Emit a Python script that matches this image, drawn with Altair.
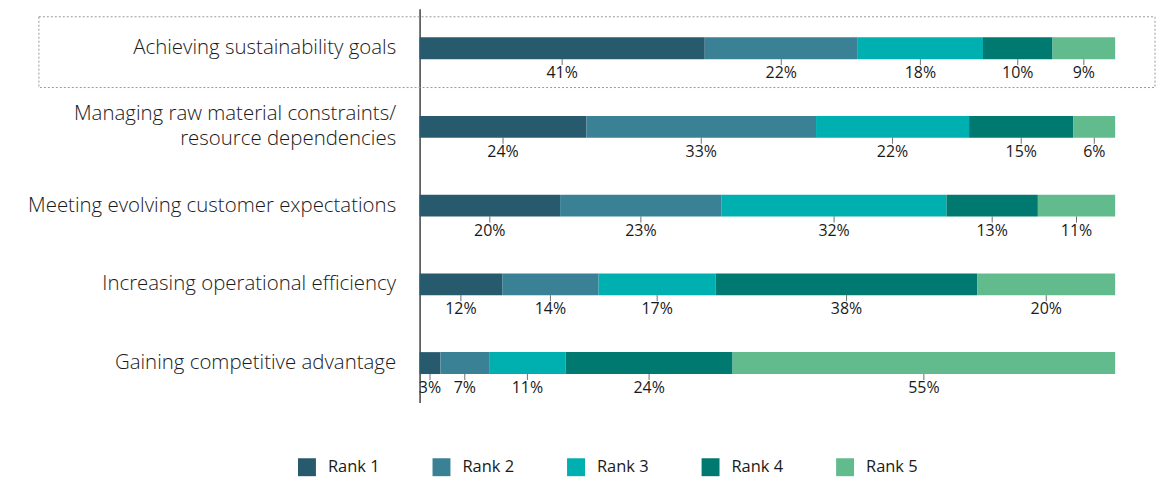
import altair as alt
import pandas as pd

categories = [
    "Achieving sustainability goals",
    "Managing raw material constraints/|resource dependencies",
    "Meeting evolving customer expectations",
    "Increasing operational efficiency",
    "Gaining competitive advantage",
]
ranks = ["Rank 1", "Rank 2", "Rank 3", "Rank 4", "Rank 5"]
rank1 = [41, 24, 20, 12, 3]
rank2 = [22, 33, 23, 14, 7]
rank3 = [18, 22, 32, 17, 11]
rank4 = [10, 15, 13, 38, 24]
rank5 = [9, 6, 11, 20, 55]
colors = ["#285a6e", "#3b8196", "#00b0b0", "#007a70", "#62bb8d"]

series = [rank1, rank2, rank3, rank4, rank5]
rows = []
for ci, cat in enumerate(categories):
    for ri, r in enumerate(ranks):
        rows.append({"category": cat, "rank": r, "order": ri, "value": series[ri][ci]})
df = pd.DataFrame(rows)

FONT = "Open Sans"

y_enc = alt.Y(
    "category:N",
    sort=categories,
    scale=alt.Scale(paddingInner=0, paddingOuter=0),
    axis=alt.Axis(
        title=None,
        domain=True,
        domainColor="#111111",
        domainWidth=1.2,
        ticks=False,
        labelFontSize=20.5,
        labelFont=FONT,
        labelFontWeight=300,
        labelColor="#1a1a1a",
        labelPadding=24,
        labelLimit=500,
        labelLineHeight=25,
        labelExpr="split(datum.label, '|')",
        labelOffset={"condition": {"test": "indexof(datum.value, '|') >= 0", "value": -12.5}, "value": 0},
        minExtent=413,
        maxExtent=413,
    ),
)

base = alt.Chart(df)

bars = base.mark_bar(size=22).encode(
    x=alt.X("value:Q", stack="normalize", scale=alt.Scale(domain=[0, 1], nice=False, zero=True), axis=None),
    y=y_enc,
    color=alt.Color(
        "rank:N",
        sort=ranks,
        scale=alt.Scale(domain=ranks, range=colors),
        legend=alt.Legend(
            title=None,
            orient="none",
            direction="horizontal",
            columns=5,
            gridAlign="all",
            legendX=-122,
            legendY=451,
            symbolType="square",
            symbolSize=324,
            symbolStrokeWidth=0,
            symbolOpacity=1,
            labelFontSize=16.5,
            labelFont=FONT,
            labelColor="#1a1a1a",
            labelOffset=12,
            columnPadding=53,
        ),
    ),
    order=alt.Order("order:Q"),
)

mids = base.transform_joinaggregate(
    total="sum(value)", groupby=["category"]
).transform_window(
    cum="sum(value)", groupby=["category"], sort=[alt.SortField("order")], frame=[None, 0]
).transform_calculate(
    mid="(datum.cum - datum.value / 2) / datum.total",
    lab="datum.value + '%'",
)

ticks = mids.mark_tick(orient="vertical", size=6, thickness=1, yOffset=14, color="#333333").encode(
    x=alt.X("mid:Q", scale=alt.Scale(domain=[0, 1])),
    y=alt.Y("category:N", sort=categories),
)

labels = mids.mark_text(dy=25, baseline="middle", fontSize=16, font=FONT, color="#1a1a1a").encode(
    x=alt.X("mid:Q"),
    y=alt.Y("category:N", sort=categories),
    text="lab:N",
)

box = alt.Chart(pd.DataFrame({"a": [0]})).mark_rect(
    filled=False, stroke="#999999", strokeWidth=1, strokeDash=[2, 2]
).encode(
    x=alt.value(-382),
    x2=alt.value(738),
    y=alt.value(8),
    y2=alt.value(79),
)

chart = alt.layer(box, bars, ticks, labels).properties(
    width=698, height=395, padding=0
).configure_view(stroke=None)

chart.save("out.html", embed_options={"renderer": "svg", "actions": False})
